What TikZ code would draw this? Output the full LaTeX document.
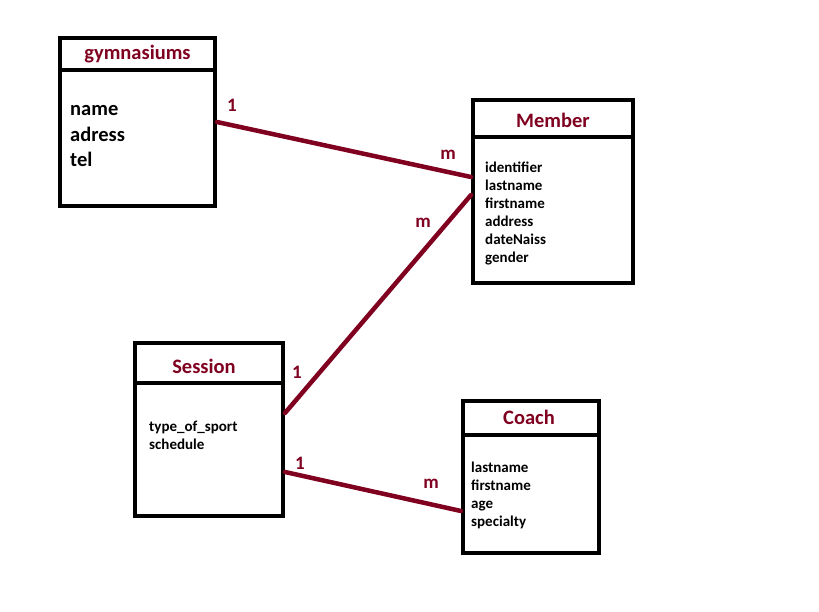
\documentclass[tikz,border=0pt]{standalone}
\usepackage{fontspec}
\setmainfont{Carlito}
\usetikzlibrary{positioning}
\definecolor{wine}{RGB}{128,0,32}

\begin{document}
\begin{tikzpicture}[x=1pt, y=-1pt,
every node/.style={font=\bfseries},
entity/.style={rectangle, draw=black, line width=4pt, inner sep=0pt},
divider/.style={line width=4pt, black},
title/.style={font=\bfseries\fontsize{20.5}{22}\selectfont, text=wine},
attrs/.style={align=left, anchor=base west, inner sep=0pt, font=\bfseries\fontsize{15}{18}\selectfont},
bigattrs/.style={attrs, font=\bfseries\fontsize{20.5}{25.5}\selectfont},
link/.style={line width=4.5pt, wine, line cap=round},
card/.style={font=\bfseries\fontsize{19}{20}\selectfont, text=wine}
]
\useasboundingbox (0,0) rectangle (819,612);
% Entities
\node[entity, minimum width=155, minimum height=168] (gym) at (137.5,122) {};
\node[entity, minimum width=160, minimum height=183] (member) at (553,191.5) {};
\node[entity, minimum width=148, minimum height=173] (session) at (209,429.5) {};
\node[entity, minimum width=136, minimum height=152] (coach) at (531,477) {};
% Dividers
\draw[divider] (gym.west |- 0,70) -- (gym.east |- 0,70);
\draw[divider] (member.west |- 0,137) -- (member.east |- 0,137);
\draw[divider] (session.west |- 0,383) -- (session.east |- 0,383);
\draw[divider] (coach.west |- 0,435) -- (coach.east |- 0,435);
% Titles
\node[title] (gymtitle) at (137.5,54) {gymnasiums};
\node[title] (membertitle) at (553,120) {Member};
\node[title] (sessiontitle) at (204,366) {Session};
\node[title] (coachtitle) at (529,417) {Coach};
% Attributes (anchored at the baseline of the last line)
\node[bigattrs] (gymattrs) at (70,167) {name\\adress\\tel};
\node[attrs] (memberattrs) at (485,263) {identifier\\lastname\\firstname\\address\\dateNaiss\\gender};
\node[attrs] (sessionattrs) at (149,449) {type\_of\_sport\\schedule};
\node[attrs] (coachattrs) at (471,526) {lastname\\firstname\\age\\specialty};
% Associations
\draw[link] (gym.east) -- ([yshift=14.5pt]member.west);
\draw[link] ([yshift=16.5pt]session.east) -- ([yshift=-3.5pt]member.west);
\draw[link] ([yshift=-42.5pt]session.east) -- ([yshift=-34pt]coach.west);
% Cardinalities
\node[card] (c1) at (232,105) {1};
\node[card] (c2) at (448,155) {m};
\node[card] (c3) at (423,223) {m};
\node[card] (c4) at (297,372) {1};
\node[card] (c5) at (300,463) {1};
\node[card] (c6) at (431,484) {m};
\end{tikzpicture}
\end{document}
